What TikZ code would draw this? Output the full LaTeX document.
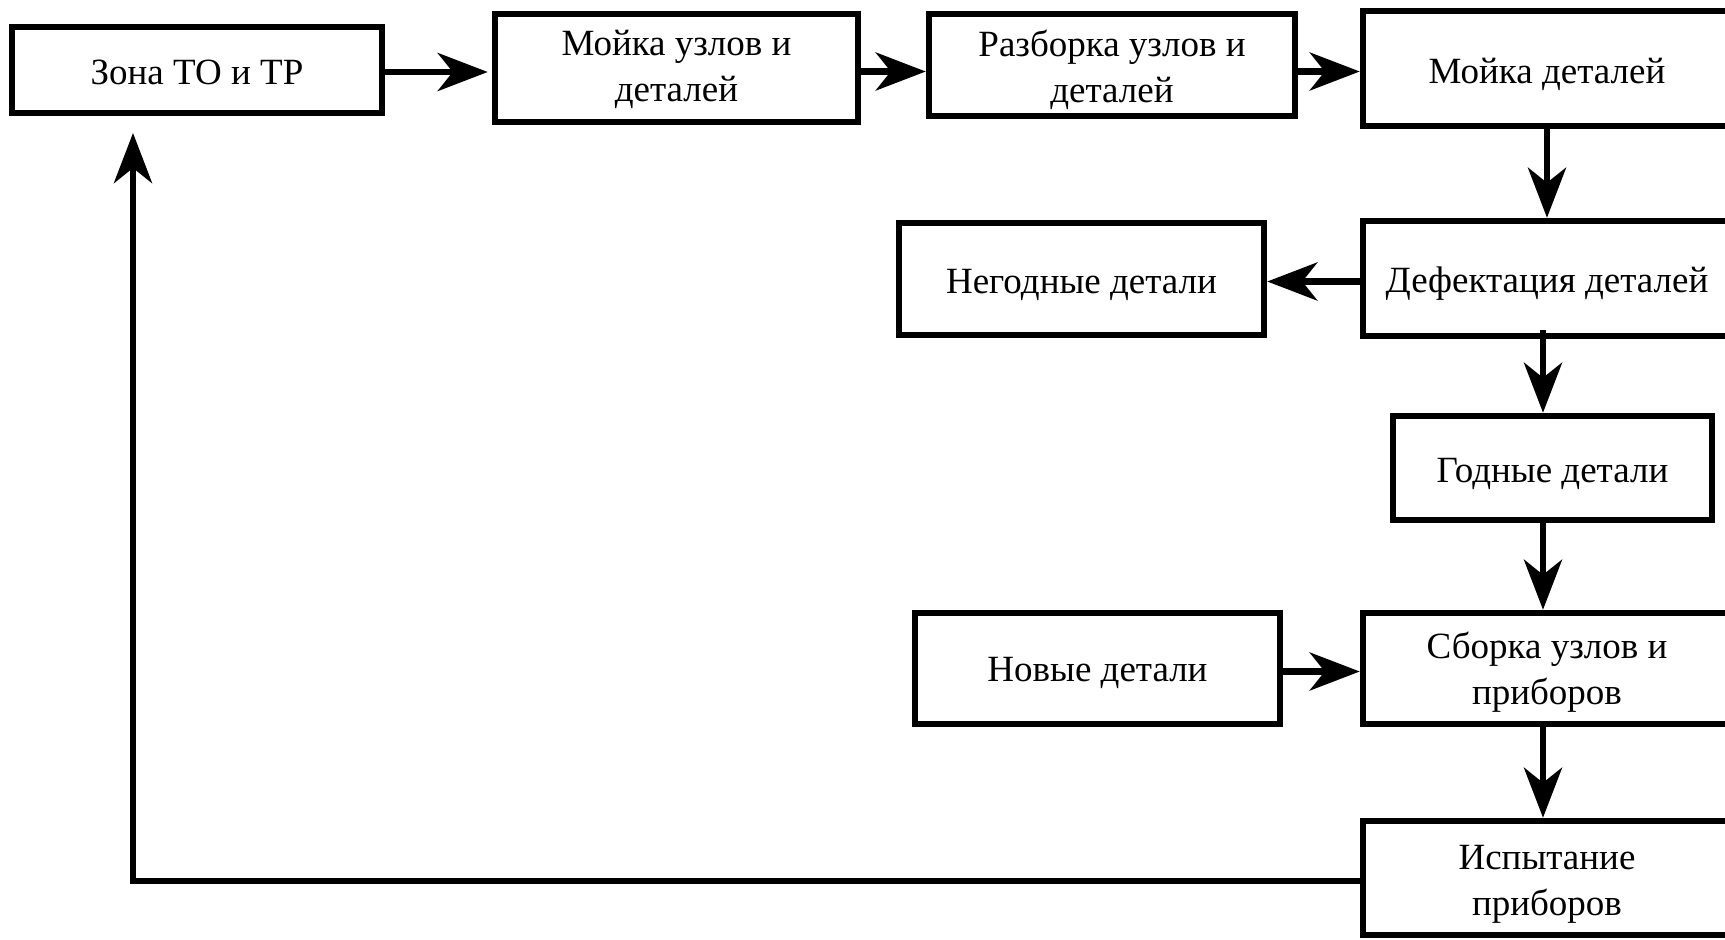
\documentclass[tikz,border=0pt]{standalone}
\usepackage{fontspec}
\setmainfont{Liberation Serif}
\usetikzlibrary{arrows.meta}
\begin{document}
\begin{tikzpicture}[x=1pt,y=-1pt,
  box/.style={draw, line width=6.5pt, rectangle, inner sep=0pt},
  txt/.style={inner sep=0pt, align=center, font=\fontsize{37}{46}\selectfont},
  arr/.style={line width=6.5pt, -{Stealth[length=50pt,width=38pt,inset=15pt]}}]
\fill[white] (0,0) rectangle (1725,940);
\useasboundingbox (0,0) rectangle (1725,940);
\node[box, minimum width=370pt, minimum height=86pt] (zona) at (197,70) {};
\node[box, minimum width=363pt, minimum height=108pt] (m1) at (676.5,68) {};
\node[box, minimum width=366pt, minimum height=102pt] (razb) at (1112,65) {};
\node[box, minimum width=368pt, minimum height=115pt] (m2) at (1547,68.5) {};
\node[box, minimum width=365pt, minimum height=112pt] (neg) at (1081.5,279) {};
\node[box, minimum width=368pt, minimum height=115pt] (def) at (1547,278.5) {};
\node[box, minimum width=319pt, minimum height=104pt] (god) at (1552.5,468) {};
\node[box, minimum width=365pt, minimum height=111pt] (nov) at (1097.5,668.5) {};
\node[box, minimum width=368pt, minimum height=111pt] (sb) at (1547,668.5) {};
\node[box, minimum width=368pt, minimum height=114pt] (isp) at (1547,878) {};
\node[txt] (tzona) at ([yshift=-2.5pt]zona.center) {Зона ТО и ТР};
\node[txt] (tm1) at ([yshift=-1.5pt]m1.center) {Мойка узлов и\\деталей};
\node[txt] (trazb) at ([yshift=-4.5pt]razb.center) {Разборка узлов и\\деталей};
\node[txt] (tm2) at ([yshift=-5.5pt]m2.center) {Мойка деталей};
\node[txt] (tneg) at ([yshift=-5.5pt]neg.center) {Негодные детали};
\node[txt] (tdef) at ([yshift=-5.5pt]def.center) {Дефектация деталей};
\node[txt] (tgod) at ([yshift=-5.5pt]god.center) {Годные детали};
\node[txt] (tnov) at ([yshift=-4.5pt]nov.center) {Новые детали};
\node[txt] (tsb) at ([yshift=-4pt]sb.center) {Сборка узлов и\\приборов};
\node[txt] (tisp) at ([yshift=-6pt]isp.center) {Испытание\\приборов};
\coordinate (rettip) at (133,133);
\draw[arr, shorten >=4pt] ([yshift=-2pt]zona.east) -- ([yshift=-2pt]zona.east -| m1.west);
\draw[arr] ([yshift=-3.5pt]m1.east) -- ([yshift=-3.5pt]m1.east -| razb.west);
\draw[arr] ([yshift=-6.5pt]razb.east) -- ([yshift=-6.5pt]razb.east -| m2.west);
\draw[arr] (m2.south) -- (def.north);
\draw[arr] ([yshift=-3pt]def.west) -- ([yshift=-3pt]def.west -| neg.east);
\draw[arr] ([xshift=-4pt,yshift=9pt]def.south) -- ([xshift=-9.5pt]god.north);
\draw[arr] ([xshift=-9.5pt]god.south) -- ([xshift=-9.5pt]god.south |- sb.north);
\draw[arr] ([yshift=-3pt]nov.east) -- ([yshift=-3pt]nov.east -| sb.west);
\draw[arr] ([xshift=-4pt]sb.south) -- ([xshift=-4pt]isp.north);
\draw[arr] ([yshift=-3pt]isp.west) -| (rettip);
\end{tikzpicture}
\end{document}
